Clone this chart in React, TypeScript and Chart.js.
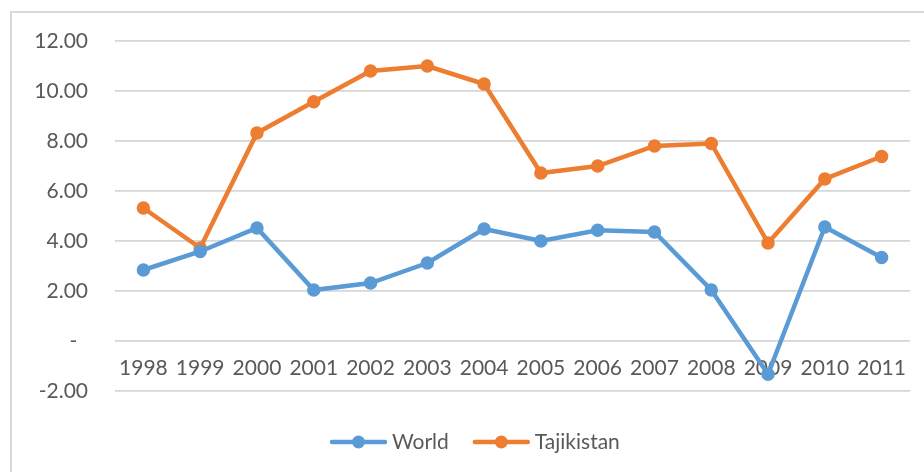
import React, { useEffect, useRef } from "react";
import { Chart, registerables } from "chart.js";

Chart.register(...registerables);

const years = ["1998", "1999", "2000", "2001", "2002", "2003", "2004", "2005", "2006", "2007", "2008", "2009", "2010", "2011"];
const world = [2.84, 3.58, 4.52, 2.04, 2.32, 3.12, 4.48, 4.0, 4.43, 4.36, 2.04, -1.33, 4.56, 3.34];
const tajikistan = [5.32, 3.72, 8.32, 9.57, 10.8, 11.0, 10.28, 6.72, 7.0, 7.8, 7.9, 3.92, 6.48, 7.38];
const seriesNames = ["World", "Tajikistan"];
const seriesColors = ["#5b9bd5", "#ed7d31"];

const FONT = "Lato, 'Open Sans', sans-serif";
const TEXT = "#595959";

const framePlugin = {
  id: "frame",
  beforeDraw(chart: any) {
    const ctx = chart.ctx;
    ctx.save();
    ctx.strokeStyle = "#d9d9d9";
    ctx.lineWidth = 2;
    ctx.strokeRect(11, 12, 1200, 1200);
    ctx.restore();
  },
};

const legendPlugin = {
  id: "customLegend",
  afterDraw(chart: any) {
    const ctx = chart.ctx;
    ctx.save();
    ctx.font = `21px ${FONT}`;
    ctx.textBaseline = "middle";
    const y = 442;
    const lineLen = 57;
    const gap = 5;
    const itemGap = 24;
    let x = 330;
    seriesNames.forEach((name, i) => {
      ctx.strokeStyle = seriesColors[i];
      ctx.fillStyle = seriesColors[i];
      ctx.lineWidth = 4.5;
      ctx.lineCap = "round";
      ctx.beginPath();
      ctx.moveTo(x + 2, y);
      ctx.lineTo(x + lineLen - 2, y);
      ctx.stroke();
      ctx.beginPath();
      ctx.arc(x + lineLen / 2, y, 6.5, 0, Math.PI * 2);
      ctx.fill();
      ctx.fillStyle = TEXT;
      ctx.textAlign = "left";
      ctx.fillText(name, x + lineLen + gap, y);
      x += lineLen + gap + ctx.measureText(name).width + itemGap;
    });
    ctx.restore();
  },
};

export default function App() {
  const ref = useRef<HTMLCanvasElement | null>(null);
  useEffect(() => {
    if (!ref.current) return;
    const chart = new Chart(ref.current, {
      type: "line",
      data: {
        labels: years,
        datasets: [world, tajikistan].map((d, i) => ({
          label: seriesNames[i],
          data: d,
          borderColor: seriesColors[i],
          backgroundColor: seriesColors[i],
          borderWidth: 4.5,
          pointRadius: 6,
          pointBorderWidth: 1.5,
          pointBackgroundColor: seriesColors[i],
          pointBorderColor: seriesColors[i],
          tension: 0,
        })),
      },
      options: {
        responsive: false,
        animation: false,
        layout: { padding: { left: 0, right: 14, top: 41, bottom: 81 } },
        plugins: { legend: { display: false }, tooltip: { enabled: false } },
        scales: {
          x: {
            position: { y: 0 } as any,
            offset: true,
            grid: { display: false, drawTicks: false },
            border: { display: false },
            ticks: { color: TEXT, font: { family: FONT, size: 21 }, padding: 15, maxRotation: 0, autoSkip: false },
          },
          y: {
            min: -2,
            max: 12,
            afterFit: (scale: any) => {
              scale.width = 115;
            },
            grid: { color: "#d6d6d6", lineWidth: 1.7, drawTicks: false },
            border: { display: false },
            ticks: {
              stepSize: 2,
              padding: 27,
              color: TEXT,
              font: { family: FONT, size: 21 },
              callback: (v: any) => (Number(v) === 0 ? "-  " : Number(v).toFixed(2)),
            },
          },
        },
      },
      plugins: [framePlugin, legendPlugin],
    });
    return () => chart.destroy();
  }, []);
  return (
    <div style={{ position: "absolute", left: 0, top: 0, width: 924, height: 472, background: "#fff" }}>
      <canvas ref={ref} width={924} height={472} />
    </div>
  );
}
